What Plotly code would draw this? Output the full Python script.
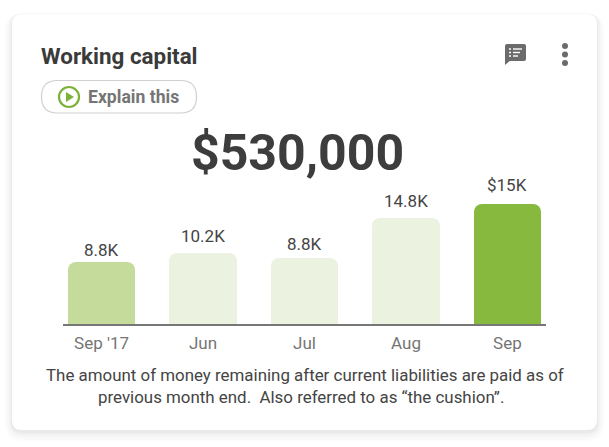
import plotly.graph_objects as go

months = ["Sep '17", "Jun", "Jul", "Aug", "Sep"]
bar_values = [8.75, 10.0, 9.3, 14.9, 16.9]
bar_labels = ["8.8K", "10.2K", "8.8K", "14.8K", "$15K"]
bar_colors = ["#c5db9c", "#ecf2e0", "#ecf2e0", "#ecf2e0", "#86b93e"]
title = "Working capital"
button_text = "Explain this"
headline = "$530,000"
caption_line_1 = "The amount of money remaining after current liabilities are paid as of"
caption_line_2 = "previous month end.  Also referred to as “the cushion”."

W, H = 609, 447
FONT = "Roboto, Arial, sans-serif"


def px(x):
    return x / W


def py(y):
    return 1 - y / H


def rrect(x0, y0, x1, y1, r):
    pts = [
        f"M{px(x0 + r)},{py(y0)}", f"L{px(x1 - r)},{py(y0)}",
        f"Q{px(x1)},{py(y0)} {px(x1)},{py(y0 + r)}", f"L{px(x1)},{py(y1 - r)}",
        f"Q{px(x1)},{py(y1)} {px(x1 - r)},{py(y1)}", f"L{px(x0 + r)},{py(y1)}",
        f"Q{px(x0)},{py(y1)} {px(x0)},{py(y1 - r)}", f"L{px(x0)},{py(y0 + r)}",
        f"Q{px(x0)},{py(y0)} {px(x0 + r)},{py(y0)}", "Z",
    ]
    return " ".join(pts)


def shape_path(d, fill="rgba(0,0,0,0)", line=None, width=0, **kw):
    return dict(type="path", xref="paper", yref="paper", path=d, fillcolor=fill,
                line=dict(color=line or "rgba(0,0,0,0)", width=width), **kw)


def poly(points):
    return "M" + " L".join(f"{px(x)},{py(y)}" for x, y in points) + " Z"


def circle(cx, cy, r, fill="rgba(0,0,0,0)", line=None, width=0):
    return dict(type="circle", xref="paper", yref="paper",
                x0=px(cx - r), x1=px(cx + r), y0=py(cy + r), y1=py(cy - r),
                fillcolor=fill, line=dict(color=line or "rgba(0,0,0,0)", width=width))


shapes = []
# card soft shadow, heavier below the card than above it
for g, a in [(10, 0.008), (8, 0.010), (6, 0.012), (4, 0.016), (2, 0.020), (1, 0.02)]:
    shapes.append(shape_path(rrect(12 - g * 0.8, 14 - g * 0.1, 597 + g * 0.8, 430 + g + 2, 10 + g),
                             fill=f"rgba(0,0,0,{a})", layer="below"))
shapes.append(shape_path(rrect(12, 14, 597, 430, 10), fill="#ffffff", layer="below"))
# explain-this pill
shapes.append(shape_path(rrect(41.5, 80.5, 196.5, 113, 16), fill="#ffffff", line="#cfcfcf", width=1.2))
shapes.append(circle(69, 97, 10, line="#7db13a", width=2.2))
shapes.append(shape_path(poly([(66, 92), (66, 102), (74, 97)]), fill="#7db13a"))
# comment icon
shapes.append(shape_path(rrect(505, 44, 526, 61, 2), fill="#6b6b6b"))
shapes.append(shape_path(poly([(505, 58), (505, 65), (511, 60)]), fill="#6b6b6b"))
for yy in (49, 52.5, 56):
    shapes.append(shape_path(poly([(509, yy - 0.7), (511, yy - 0.7), (511, yy + 0.7), (509, yy + 0.7)]), fill="#ffffff"))
for yy, x1 in ((49, 522), (52.5, 520), (56, 518)):
    shapes.append(shape_path(poly([(513, yy - 0.7), (x1, yy - 0.7), (x1, yy + 0.7), (513, yy + 0.7)]), fill="#ffffff"))
# kebab menu
for yy in (46, 54.5, 63):
    shapes.append(circle(565, yy, 3, fill="#6b6b6b"))

fig = go.Figure(go.Bar(
    x=months, y=bar_values,
    marker=dict(color=bar_colors, cornerradius=8, line=dict(width=0)),
    width=0.665, cliponaxis=False, hoverinfo="skip",
))


def note(text, x, y, size, color, anchor="center", weight=400):
    return dict(text=text, x=px(x), y=py(y), xref="paper", yref="paper", showarrow=False,
                xanchor=anchor, yanchor="middle", align="center",
                font=dict(family=FONT, size=size, color=color, weight=weight))


# Value labels sit on their bars, at the slightly uneven gaps the reference shows.
label_gaps = [12, 17, 14, 17, 19]
value_notes = [
    dict(text=t, x=m, y=v, xref="x", yref="y", showarrow=False, xanchor="center",
         yanchor="bottom", yshift=g - 12, font=dict(family=FONT, size=17, color="#444444"))
    for t, m, v, g in zip(bar_labels, months, bar_values, label_gaps)
]

fig.update_layout(
    width=W, height=H, margin=dict(l=0, r=0, t=0, b=0),
    paper_bgcolor="#ffffff", plot_bgcolor="rgba(0,0,0,0)", showlegend=False, bargap=0,
    xaxis=dict(domain=[px(63), px(546)], range=[-0.38, 4.38], type="category",
               showline=True, linecolor="#777777", linewidth=1.5, ticks="outside", ticklen=3,
               tickcolor="rgba(0,0,0,0)", showgrid=False, zeroline=False, fixedrange=True,
               tickfont=dict(family=FONT, size=17, color="#757575")),
    yaxis=dict(domain=[py(324), py(111)], range=[0, 30], visible=False, fixedrange=True),
    shapes=shapes,
    annotations=[
        note(title, 39, 56, 22.4, "#3a3a3a", "left", 700),
        note(button_text, 86, 97, 17.6, "#757575", "left", 700),
        note(headline, 297, 152.5, 50, "#3d3d3d", "center", 700),
        note(caption_line_1, 304.5, 374.5, 16.9, "#444444"),
        note(caption_line_2, 301, 396.5, 16.9, "#444444"),
    ] + value_notes,
)
fig.write_html("out.html", config=dict(displayModeBar=False),
               post_script="document.body.style.margin='0';"
                           "document.querySelectorAll('.bars path').forEach(function(p){p.style.shapeRendering='auto';});")
